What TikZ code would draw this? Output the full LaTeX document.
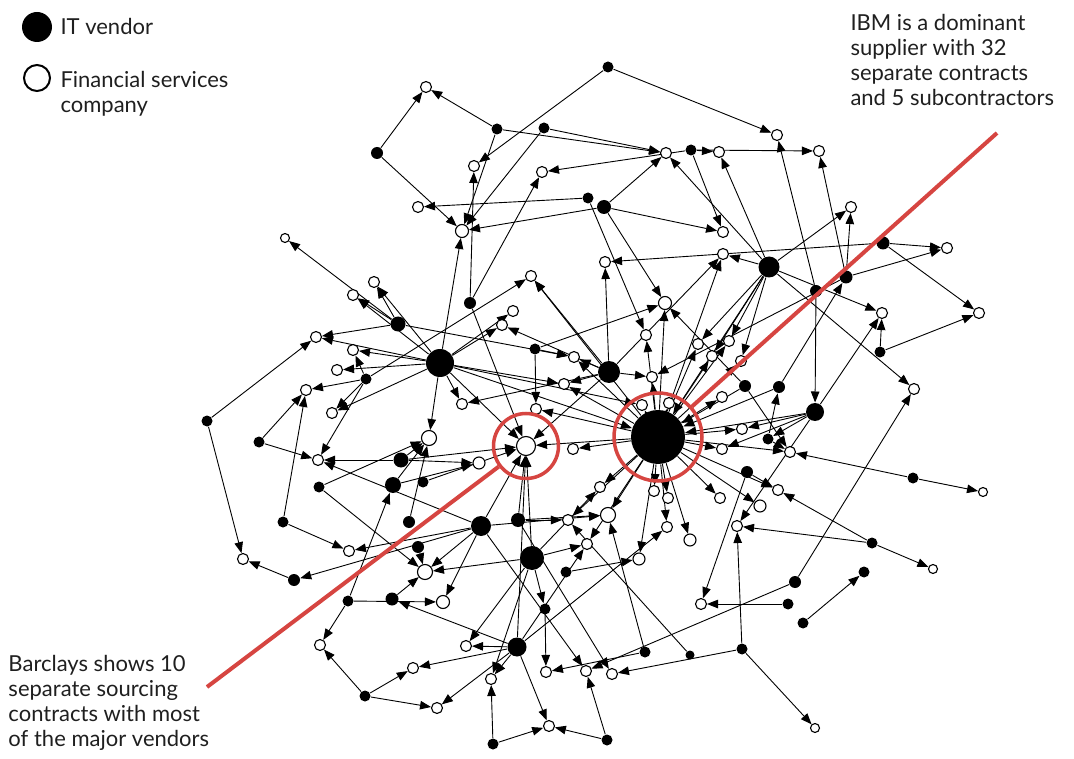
\documentclass[tikz,border=0pt]{standalone}
\usepackage{fontspec}
\setmainfont{Lato}
\usetikzlibrary{arrows.meta,backgrounds}
\definecolor{notered}{RGB}{214,69,65}
\begin{document}
\begin{tikzpicture}[x=1pt,y=-1pt,line width=1pt,
  vendor/.style={circle,fill=black,inner sep=0pt},
  firm/.style={circle,draw=black,fill=white,inner sep=0pt,line width=1.1pt},
  link/.style={-{Triangle[length=11pt,width=8.5pt]},line width=.9pt},
  ring/.style={circle,draw=notered,line width=3.5pt,inner sep=0pt},
  callout/.style={draw=notered,line width=4pt},
  blurb/.style={font=\fontsize{22}{25}\selectfont,align=left,inner sep=0pt,text=black!88}]
  \path[use as bounding box] (0,0) rectangle (1074,759);
  % legend
  \node[vendor,minimum size=30pt] (keyvendor) at (37,27) {};
  \node[firm,minimum size=26pt,line width=2pt] (keyfirm) at (37,78) {};
  \node[blurb,anchor=west] (keyvendortext) at (60,26) {IT vendor};
  \node[blurb,anchor=north west] (keyfirmtext) at (60,71) {Financial services\\company};
  % vendors (name/x/y/diameter)
  \foreach \n/\x/\y/\d in {v1/608/67/11,v2/377/153/12,v3/497/129/11,v4/544/128/11,v5/691/150/11,
    v6/588/198/11,v7/604/207/14,v8/769/267/21,v9/470/303/12,v10/398/324/15,v11/440/363/28,
    v12/366/379/11,v13/535/349/11,v14/609/372/22,v15/883/243/13,v16/846/277/13,v17/816/291/12,
    v18/880/352/11,v19/745/386/12,v20/779/387/12,v21/815/412/18,v22/768/439/11,v23/747/472/12,
    v24/207/421/11,v25/259/442/11,v26/401/460/15,v27/393/485/16,v28/423/482/11,v29/319/487/11,
    v30/283/522/11,v31/409/522/12,v32/418/547/12,v33/481/526/20,v34/518/520/14,v35/532/558/24,
    v36/566/572/11,v37/294/580/12,v38/348/601/11,v39/392/599/13,v40/545/609/11,v41/517/647/19,
    v42/645/652/11,v43/690/655/9,v44/742/649/11,v45/365/696/11,v46/493/744/11,v47/607/740/11,
    v48/788/604/11,v49/795/582/12,v50/803/623/11,v51/864/572/11,v52/872/543/11,v53/913/478/11,
    ibm/658/437/54}
    {\node[vendor,minimum size=\d pt] (\n) at (\x,\y) {};}
  % financial services companies (name/x/y/diameter)
  \foreach \n/\x/\y/\d in {c1/426/87/11,c2/777/135/11,c3/666/153/11,c4/719/152/11,c5/819/151/11,
    c6/474/166/11,c7/542/172/11,c8/418/207/11,c9/462/231/13,c10/851/207/11,c11/723/232/11,
    c12/723/254/11,c13/605/262/11,c14/285/238/9,c15/947/248/11,c16/531/276/11,c17/374/282/11,
    c18/353/295/11,c19/665/303/13,c20/513/311/11,c21/502/325/11,c22/882/313/11,c23/979/313/11,
    c24/316/337/11,c25/646/335/11,c26/698/344/11,c27/729/341/11,c28/353/350/11,c29/574/357/11,
    c30/712/356/11,c31/741/361/11,c32/337/370/11,c33/652/377/11,c34/564/384/11,c35/306/390/11,
    c36/914/389/11,c37/722/397/11,c38/462/404/11,c39/536/409/11,c40/642/405/11,c41/669/403/11,
    c42/332/413/11,c43/429/438/15,c44/742/429/11,c45/573/449/11,c46/722/449/11,c47/790/452/11,
    c48/318/460/11,c49/479/463/12,barc/526/446/19,c50/600/487/11,c51/654/491/11,c52/668/498/11,
    c53/720/498/11,c54/983/492/9,c55/778/490/11,c56/760/506/12,c57/608/515/15,c58/568/520/11,
    c59/667/527/11,c60/737/526/11,c62/690/540/12,c63/587/544/11,c64/349/551/11,c65/243/559/11,
    c66/639/559/12,c67/425/572/15,c68/933/569/9,c69/443/602/13,c70/701/604/11,c71/320/645/11,
    c72/466/646/11,c73/413/668/11,c74/546/672/11,c75/586/671/11,c76/612/674/11,c77/491/679/11,
    c78/437/708/11,c79/549/726/11,c80/815/728/9}
    {\node[firm,minimum size=\d pt] (\n) at (\x,\y) {};}
  % contracts
  \begin{scope}[on background layer]
    \foreach \a/\b in {v2/c1,v3/c1,v2/c9,v3/c9,v4/c9,v3/c3,v4/c3,v1/c6,v1/c2,v9/c6,v9/c7,v6/c8,
      v7/c9,v5/c7,v5/c4,v5/c5,v5/c11,v7/c3,v7/c11,v7/c19,v6/c25,v8/c3,v8/c4,v17/c2,v16/c5,
      v8/c10,v16/c10,v11/c9,
      v15/c15,v15/c23,v15/c13,v16/c15,v16/c33,v17/v21,v18/c22,v18/c23,v8/c12,v8/c26,v8/c27,
      v8/c30,v8/c31,v8/c22,v8/c36,v8/ibm,v14/c12,v21/c22,v21/c44,v21/c46,v21/c60,v21/ibm,
      v21/v22,v53/c47,v53/c54,v52/c55,v52/c68,v52/c60,v50/v51,v49/c36,v49/c75,v48/c70,
      v44/c80,v44/c76,v44/c60,v43/c58,v42/c57,v42/c74,v19/c47,v19/ibm,v19/c19,v20/v16,
      v20/ibm,v22/v20,v22/c47,v23/c55,v23/c70,
      v10/c14,v10/c17,v10/c18,v10/c24,v10/c29,v11/c17,v11/c18,v11/c24,v11/c28,v11/c32,
      v11/c38,v11/c43,v11/c20,v11/c21,v11/c34,v11/c40,v11/barc,v11/c42,v11/ibm,v12/c35,
      v12/c42,v12/c28,v12/c16,v12/c48,v13/c29,v13/c39,v13/c19,v14/c13,v14/c16,v14/c29,
      v14/c34,v14/c33,v14/barc,v14/c38,v14/c21,v9/barc,
      v24/c24,v24/c65,v25/c35,v25/c48,v30/c35,v30/c64,v29/c67,v29/c43,v27/c49,v27/c43,
      v26/c49,v26/c43,v26/c48,v26/barc,v28/barc,v31/c43,v32/c67,v33/c64,v33/c67,v33/c69,
      v33/c48,v33/c75,v33/barc,v33/c57,v33/v37,v37/c65,v38/c71,v38/c69,v38/v27,v39/c67,
      v41/v39,
      v34/c57,v34/c58,v34/barc,v34/c76,v35/barc,v35/c67,v35/c72,v35/c77,v35/c63,v35/c50,
      v35/v40,v36/c66,v40/c74,v41/c72,v41/c73,v41/c78,v41/c77,v41/c79,v41/barc,v41/c59,
      v41/c63,v45/c71,v45/c73,v45/c78,v46/c77,v46/c79,v47/c79,v47/c75,
      ibm/c19,ibm/c25,ibm/c26,ibm/c27,ibm/c30,ibm/c31,ibm/c33,ibm/c37,ibm/c40,ibm/c41,
      ibm/c44,ibm/c46,ibm/c45,ibm/barc,ibm/c51,ibm/c52,ibm/c53,ibm/c55,ibm/c56,ibm/c57,
      ibm/c50,ibm/c59,ibm/c62,ibm/c66,ibm/c63,ibm/c39,ibm/c29,ibm/c34,ibm/c58,ibm/c16,
      ibm/c12,ibm/c47}
      {\draw[link] (\a) -- (\b);}
  \end{scope}
  % highlighted firms
  \node[ring,minimum size=88pt] (ibmring) at (ibm) {};
  \node[ring,minimum size=65pt] (barcring) at (barc) {};
  \coordinate (ibmtail) at (997,133);
  \coordinate (barctail) at (207,687);
  \draw[callout] (ibmtail) -- (ibmring);
  \draw[callout] (barctail) -- (barcring);
  \node[blurb,anchor=north west] (ibmtext) at (850,14) {IBM is a dominant\\supplier with 32\\separate contracts\\and 5 subcontractors};
  \node[blurb,anchor=north west] (barctext) at (8,655) {Barclays shows 10\\separate sourcing\\contracts with most\\of the major vendors};
\end{tikzpicture}
\end{document}
